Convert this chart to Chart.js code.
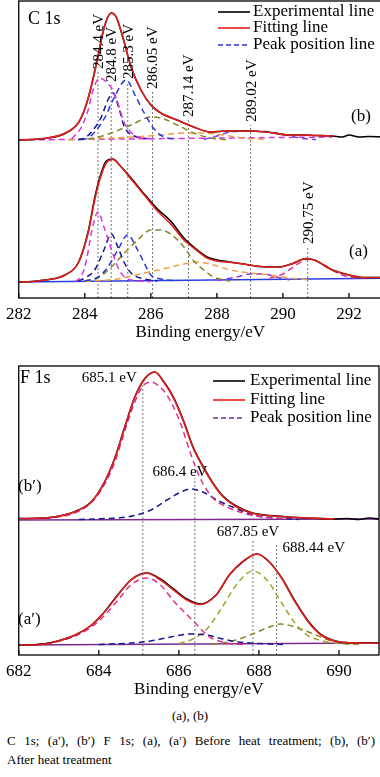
<!DOCTYPE html>
<html>
<head>
<meta charset="utf-8">
<script src="https://cdn.jsdelivr.net/npm/chart.js@4.4.1/dist/chart.umd.min.js"></script>
<style>
  body { margin: 0; background: #fff; width: 380px; height: 777px; overflow: hidden; position: relative;
         font-family: 'Liberation Serif', 'Times New Roman', serif; color: #000; }
  #c1 { position: absolute; left: 0; top: 0; }
  #c2 { position: absolute; left: 0; top: 347px; }
  #sub { position: absolute; left: 0; width: 380px; top: 708px; text-align: center; font-size: 13px; }
  .cap { position: absolute; left: 7px; width: 368px; font-size: 13px; line-height: 16px; }
  #cap1 { top: 733px; text-align: justify; text-align-last: justify; }
  #cap2 { top: 752px; text-align: left; }
</style>
</head>
<body>
<canvas id="c1" width="383" height="347"></canvas>
<canvas id="c2" width="380" height="353"></canvas>
<div id="sub">(a), (b)</div>
<div class="cap" id="cap1">C 1s; (a′), (b′) F 1s; (a), (a′) Before heat treatment; (b), (b′)</div>
<div class="cap" id="cap2">After heat treatment</div>
<script>
var SERIF = "'Liberation Serif', 'Times New Roman', serif";
Chart.defaults.font.family = SERIF;
Chart.defaults.color = '#000';

// ---------- C 1s ----------
var ticksC = [282, 284, 286, 288, 290, 292];
var offCa = 16, offCb = 158;   // vertical stacking of spectra (a) and (b)

// (a) before heat treatment
var eCa    = [282, 282.4, 282.8, 283.1, 283.4, 283.8, 284.1, 284.3, 284.45, 284.65, 284.85, 285.05, 285.4, 285.8, 286.2, 286.6, 287.0, 287.3, 287.7, 288.0, 288.3, 288.8, 289.3, 289.9, 290.3, 290.7, 290.95, 291.5, 292.0, 292.4, 293];
var expCa  = [0, 0.5, 2, 3.5, 7, 19, 50, 84, 104, 121, 123, 117, 104, 88, 73, 61, 44, 35, 25, 22, 20.5, 18, 15.5, 15, 18.5, 23.5, 22, 12, 7, 4.5, 4.5];
var fitCa  = [0, 0.5, 2, 3.5, 7, 19, 49, 82, 102, 119, 122.5, 117, 103, 87, 71, 58, 42, 34, 24, 21, 20, 18, 15.5, 15, 18.5, 23.5, 22, 12, 7, 4.5, 4.5];
var baseCaE = [282, 293];
var baseCa  = [0, 3.7];
var p2844aE = [283.7, 283.9, 284.05, 284.2, 284.4, 284.58, 284.78, 285.0, 285.2, 285.5, 286.0];
var p2844a  = [0.5, 6, 22, 49, 70, 55, 35, 15, 5, 1.5, 0.5];
var p2848aE = [283.8, 284.0, 284.3, 284.58, 284.8, 285.0, 285.2, 285.4, 285.8, 286.2];
var p2848a  = [1, 4, 12, 32, 48, 35, 19, 9, 3, 1];
var p2853aE = [284.0, 284.4, 284.7, 285.0, 285.3, 285.6, 285.8, 286.0, 286.3, 286.8];
var p2853a  = [1, 5, 15, 32, 47, 32, 19, 7, 3, 1];
var p2860aE = [284.0, 284.4, 284.8, 285.2, 285.6, 286.0, 286.3, 286.6, 287.0, 287.3, 287.6, 287.9, 288.4];
var p2860a  = [1, 4, 15, 29, 42, 52, 52, 48, 35, 21, 12, 5, 1];
var p2871aE = [284.0, 285.0, 285.8, 286.5, 287.0, 287.4, 287.9, 288.4, 289.0, 289.6, 290.2, 290.8];
var p2871a  = [0.5, 3, 9, 14, 18, 20, 17, 12, 9, 7, 4, 2];
var p2890aE = [288.0, 288.6, 289.0, 289.4, 289.8, 290.2];
var p2890a  = [1.5, 5, 8, 8, 5, 2];
var p2908aE = [289.6, 290.0, 290.4, 290.8, 291.2, 291.6, 292.0, 292.5];
var p2908a  = [4, 8, 17, 23, 18, 10, 5, 4];

// (b) after heat treatment
var eCbExp = [282, 282.8, 283.4, 283.8, 284.0, 284.2, 284.4, 284.6, 284.8, 284.95, 285.15, 285.4, 285.7, 286.0, 286.3, 286.8, 287.3, 287.8, 288.3, 288.9, 289.5, 290.2, 290.6, 291.0, 291.5, 291.8, 292.0, 292.3, 292.6, 293];
var expCb  = [0, 1.5, 6.5, 17, 31, 54, 84, 114, 127, 123, 103, 73, 50, 35, 27, 20, 13, 8, 9, 9, 8, 5, 5, 4.5, 4, 3, 5, 3, 3.5, 3];
var eCbFit = [282, 282.8, 283.4, 283.8, 284.0, 284.2, 284.4, 284.6, 284.8, 284.95, 285.15, 285.4, 285.7, 286.0, 286.3, 286.8, 287.3, 287.8, 288.3, 288.9, 289.5, 290.2, 290.6, 291.0, 291.5];
var fitCb  = [0, 1.7, 6.7, 17, 31, 54, 84, 114, 127, 123, 103, 73, 50, 35, 27, 20, 13, 8, 9, 9, 8, 5, 5, 4.5, 4];
var baseCbE = [282, 291.5];
var baseCb  = [0, 3];
var p2844bE = [283.6, 283.9, 284.1, 284.25, 284.45, 284.65, 284.85, 285.0, 285.2, 285.5, 286.0];
var p2844b  = [1, 13, 30, 50, 62, 58, 50, 37, 17, 5, 1];
var p2848bE = [283.8, 284.0, 284.2, 284.5, 284.7, 284.85, 285.05, 285.2, 285.5, 285.9];
var p2848b  = [0.5, 2, 8, 23, 40, 47, 30, 13, 4, 1];
var p2853bE = [283.9, 284.1, 284.3, 284.6, 284.9, 285.25, 285.55, 285.8, 286.1, 286.4, 286.8];
var p2853b  = [0.5, 2, 8, 22, 43, 60, 43, 27, 11, 3, 1];
var p2860bE = [283.8, 284.3, 284.8, 285.4, 286.0, 286.4, 286.8, 287.3, 287.8, 288.3];
var p2860b  = [0.5, 2, 7, 15, 23, 21, 15, 7, 2, 0.5];
var p2871bE = [283.5, 284.5, 285.5, 286.3, 287.0, 287.6, 288.2, 288.8, 289.5];
var p2871b  = [0.3, 1.5, 3, 5, 7, 7, 5, 2, 0.5];
var p2890bE = [287.6, 288.0, 288.4, 289.0, 289.6, 290.1, 290.6, 291.0];
var p2890b  = [0.5, 4, 8, 9, 8, 5, 1.5, 0.5];

var peaksC    = [284.4, 284.8, 285.3, 286.05, 287.14, 289.02, 290.75];
var peaksCTop = [226, 213, 216, 206, 178, 173, 51];

// ---------- F 1s ----------
var ticksF = [682, 684, 686, 688, 690];
var offFa = 10, offFb = 135;

// (a') before heat treatment
var eFa   = [682, 682.43, 682.92, 683.41, 683.82, 684.15, 684.48, 684.8, 685.05, 685.21, 685.54, 685.87, 686.2, 686.53, 686.93, 687.26, 687.59, 687.95, 688.25, 688.57, 688.9, 689.23, 689.55, 689.97, 690.5, 691];
var expFa = [0, 0.3, 3.5, 10, 20, 33.5, 50.5, 65, 71, 72, 66, 56, 46, 41, 50, 70, 83, 91, 83.5, 67, 44, 24, 10.5, 3.5, 2, 2];
var fitFa = [0, 0, 3.3, 10, 20, 33.3, 50, 65, 70.7, 71.7, 65, 55, 45, 40.5, 50, 70, 83.3, 91, 83.3, 66.7, 43.3, 23.3, 10, 3.3, 2, 1.7];
var baseFaE = [682, 691];
var baseFa  = [0, 2];
var p6851aE = [682.43, 682.92, 683.41, 683.82, 684.15, 684.48, 684.8, 685.2, 685.54, 685.87, 686.36, 686.77, 687.2, 687.6];
var p6851a  = [0.5, 3, 9, 18, 30, 45, 60, 67, 60, 44, 24, 8, 2, 0.5];
var p6864aE = [684.0, 684.8, 685.3, 685.8, 686.3, 686.7, 687.1, 687.5, 688.0, 688.6];
var p6864a  = [0.5, 2, 4, 8, 11, 10, 6, 3, 1.5, 0.5];
var p6879aE = [686.0, 686.4, 686.7, 687.1, 687.45, 687.85, 688.2, 688.57, 688.9, 689.2, 689.6, 690.0, 690.5];
var p6879a  = [1.5, 7, 16, 39, 61, 74, 65, 42, 22, 10, 4, 1.5, 0.5];
var p6884aE = [686.8, 687.1, 687.43, 687.84, 688.2, 688.55, 688.9, 689.3, 689.88, 690.4];
var p6884a  = [0.5, 2, 5, 11, 17, 21, 18, 12, 3.3, 1];

// (b') after heat treatment
var eFbExp = [682, 682.43, 682.92, 683.41, 683.82, 684.15, 684.4, 684.64, 684.89, 685.13, 685.4, 685.62, 685.87, 686.12, 686.36, 686.6, 686.85, 687.1, 687.43, 687.84, 688.65, 689.5, 689.9, 690.2, 690.5, 690.75, 691];
var expFb  = [1.5, 1.7, 3.3, 8.5, 18.5, 38.5, 62, 92, 122, 140.5, 148, 138.5, 122.5, 99, 72.5, 54, 37, 24, 14, 7, 3.3, 1.5, 1, 1.5, 0.5, 2, 1];
var eFbFit = [682, 682.43, 682.92, 683.41, 683.82, 684.15, 684.4, 684.64, 684.89, 685.13, 685.4, 685.62, 685.87, 686.12, 686.36, 686.6, 686.85, 687.1, 687.43, 687.84, 688.65, 689.88];
var fitFb  = [1.5, 1.7, 3.3, 8.3, 18.3, 38.3, 61.7, 91.7, 121.7, 140, 148, 138, 121.7, 98, 71.7, 53, 36.5, 23.3, 13.3, 6.7, 3.3, 1];
var baseFbE = [682, 691];
var baseFb  = [0, 1];
var p6851bE = [682.4, 682.9, 683.4, 683.8, 684.15, 684.4, 684.64, 684.89, 685.1, 685.3, 685.5, 685.7, 686.03, 686.28, 686.53, 686.85, 687.1, 687.6, 688.1, 688.7];
var p6851b  = [1, 2.5, 7, 17, 36, 58, 88, 117, 134, 138, 134, 125, 98, 68, 42, 22, 15, 7, 3, 1];
var p6864bE = [683.5, 684.2, 684.7, 685.3, 685.7, 686.0, 686.3, 686.6, 687.0, 687.4, 687.85, 688.4, 689.0];
var p6864b  = [0.5, 1.5, 3, 10, 20, 27, 31, 28, 19, 12, 5, 2, 0.5];

var peaksF    = [685.1, 686.4, 687.85, 688.44];
var peaksFTop = [272, 177, 115, 112];

var legendText = ['Experimental line', 'Fitting line', 'Peak position line'];

// ---------- helpers ----------
var DASH = [6, 4];
function pts(E, Y, off) {
  return E.map(function (e, i) { return { x: e, y: Y[i] + off }; });
}
function ds(E, Y, off, color, dash, order, w) {
  return {
    data: pts(E, Y, off),
    borderColor: color,
    borderWidth: w || 1.5,
    borderDash: dash || [],
    order: order == null ? 2 : order,
    pointRadius: 0,
    showLine: true,
    fill: false,
    cubicInterpolationMode: 'monotone'
  };
}
function vline(e, top) {
  return {
    data: [{ x: e, y: 0 }, { x: e, y: top }],
    borderColor: '#777', borderWidth: 1, borderDash: [2, 2],
    pointRadius: 0, showLine: true, order: 5
  };
}

function annoPlugin(cfg) {
  return {
    id: 'anno',
    afterDraw: function (chart) {
      var ctx = chart.ctx, a = chart.chartArea;
      var xs = chart.scales.x, ys = chart.scales.y;
      ctx.save();
      // frame + inward ticks
      ctx.strokeStyle = '#000';
      ctx.lineWidth = 1.3;
      ctx.strokeRect(a.left, a.top, a.right - a.left, a.bottom - a.top);
      cfg.ticks.forEach(function (v) {
        var x = xs.getPixelForValue(v);
        ctx.beginPath(); ctx.moveTo(x, a.bottom); ctx.lineTo(x, a.bottom - 5); ctx.stroke();
      });
      // peak labels
      ctx.fillStyle = '#000';
      ctx.font = '15px ' + SERIF;
      cfg.peaks.forEach(function (p) {
        var x = xs.getPixelForValue(p.e);
        if (p.rot) {
          ctx.save();
          ctx.translate(x + 1, ys.getPixelForValue(p.top) - 3);
          ctx.rotate(-Math.PI / 2);
          ctx.textAlign = 'left'; ctx.textBaseline = 'middle';
          ctx.fillText(p.text, 0, 0);
          ctx.restore();
        } else {
          ctx.textAlign = p.align; ctx.textBaseline = 'middle';
          ctx.fillText(p.text, x + p.dx, ys.getPixelForValue(p.ty));
        }
      });
      // panel labels
      cfg.texts.forEach(function (t) {
        ctx.font = t.size + 'px ' + SERIF;
        ctx.textAlign = 'left'; ctx.textBaseline = 'middle';
        ctx.fillText(t.text, t.x, t.y);
      });
      // legend
      var L = cfg.legend;
      ctx.font = '17px ' + SERIF;
      legendText.forEach(function (txt, i) {
        var y = L.y[i];
        ctx.strokeStyle = L.colors[i];
        ctx.lineWidth = 1.6;
        ctx.setLineDash(i === 2 ? [5, 3] : []);
        ctx.beginPath(); ctx.moveTo(L.x0, y); ctx.lineTo(L.x1, y); ctx.stroke();
        ctx.setLineDash([]);
        ctx.textAlign = 'left'; ctx.textBaseline = 'middle';
        ctx.fillText(txt, L.tx, y);
      });
      ctx.restore();
    }
  };
}

function makeChart(id, cfg) {
  return new Chart(document.getElementById(id), {
    type: 'scatter',
    data: { datasets: cfg.datasets },
    options: {
      responsive: false,
      animation: false,
      devicePixelRatio: 1,
      layout: { padding: cfg.pad },
      plugins: { legend: { display: false }, tooltip: { enabled: false } },
      scales: {
        x: {
          type: 'linear', min: cfg.xmin, max: cfg.xmax,
          afterBuildTicks: function (s) { s.ticks = cfg.ticks.map(function (v) { return { value: v }; }); },
          afterFit: function (s) { s.height = cfg.axisH; },
          grid: { display: false, drawTicks: false },
          border: { display: false },
          ticks: { font: { size: 17, family: SERIF }, color: '#000', padding: 6 },
          title: { display: true, text: 'Binding energy/eV', font: { size: 17, family: SERIF }, color: '#000',
                   padding: { top: 0, bottom: cfg.titlePad } }
        },
        y: { display: false, min: 0, max: cfg.ymax }
      }
    },
    plugins: [annoPlugin(cfg)]
  });
}

// ---------- C 1s chart ----------
var dsC = [
  ds(eCa, fitCa, offCa, '#e3201e', [], 0, 1.6),
  ds(eCa, expCa, offCa, '#000', [], 1, 1.6),
  ds(eCbFit, fitCb, offCb, '#e3201e', [], 0, 1.6),
  ds(eCbExp, expCb, offCb, '#000', [], 1, 1.6),
  ds(baseCaE, baseCa, offCa, '#2a3ee0', [], 3, 1.5),
  ds(baseCbE, baseCb, offCb, '#d834e0', DASH, 3),
  ds(p2844aE, p2844a, offCa, '#e034e0', DASH),
  ds(p2848aE, p2848a, offCa, '#14148c', DASH),
  ds(p2853aE, p2853a, offCa, '#2a3ad8', DASH),
  ds(p2860aE, p2860a, offCa, '#86862a', DASH),
  ds(p2871aE, p2871a, offCa, '#f0a040', DASH),
  ds(p2890aE, p2890a, offCa, '#8a3ae0', DASH),
  ds(p2908aE, p2908a, offCa, '#e8308c', DASH),
  ds(p2844bE, p2844b, offCb, '#e034e0', DASH),
  ds(p2848bE, p2848b, offCb, '#14148c', DASH),
  ds(p2853bE, p2853b, offCb, '#2a3ad8', DASH),
  ds(p2860bE, p2860b, offCb, '#86862a', DASH),
  ds(p2871bE, p2871b, offCb, '#f0a040', DASH),
  ds(p2890bE, p2890b, offCb, '#7a40e0', DASH)
].concat(peaksC.map(function (e, i) { return vline(e, peaksCTop[i]); }));

makeChart('c1', {
  datasets: dsC,
  xmin: 282, xmax: 293, ymax: 297,
  ticks: ticksC,
  pad: { left: 13, right: 1, top: 1, bottom: 0 },
  axisH: 49, titlePad: 4,
  peaks: peaksC.map(function (e, i) { return { e: e, top: peaksCTop[i], text: e + ' eV', rot: true }; }),
  texts: [
    { text: 'C 1s', x: 28, y: 19, size: 18 },
    { text: '(b)', x: 351, y: 117, size: 17 },
    { text: '(a)', x: 349, y: 252, size: 17 }
  ],
  legend: { x0: 218, x1: 250, tx: 253, y: [12, 28, 45], colors: ['#000', '#e3201e', '#2a30d0'] }
});

// ---------- F 1s chart ----------
var dsF = [
  ds(eFa, fitFa, offFa, '#e3201e', [], 0, 1.6),
  ds(eFa, expFa, offFa, '#000', [], 1, 1.6),
  ds(eFbFit, fitFb, offFb, '#e3201e', [], 0, 1.6),
  ds(eFbExp, expFb, offFb, '#000', [], 1, 1.6),
  ds(baseFaE, baseFa, offFa, '#7b2d8e', [], 3, 1.5),
  ds(baseFbE, baseFb, offFb, '#7b2d8e', [], 3, 1.5),
  ds(p6851aE, p6851a, offFa, '#e0308c', DASH),
  ds(p6864aE, p6864a, offFa, '#1a1a90', DASH),
  ds(p6879aE, p6879a, offFa, '#a5a02a', DASH),
  ds(p6884aE, p6884a, offFa, '#8a862a', DASH),
  ds(p6851bE, p6851b, offFb, '#e0308c', DASH),
  ds(p6864bE, p6864b, offFb, '#1a1a90', DASH)
].concat(peaksF.map(function (e, i) { return vline(e, peaksFTop[i]); }));

makeChart('c2', {
  datasets: dsF,
  xmin: 682, xmax: 691, ymax: 289,
  ticks: ticksF,
  pad: { left: 12, right: 1, top: 19, bottom: 0 },
  axisH: 45, titlePad: 0,
  peaks: [
    { e: peaksF[0], text: peaksF[0] + ' eV', align: 'right', dx: -6, ty: 277 },
    { e: peaksF[1], text: peaksF[1] + ' eV', align: 'center', dx: -15, ty: 183 },
    { e: peaksF[2], text: peaksF[2] + ' eV', align: 'center', dx: -5, ty: 123 },
    { e: peaksF[3], text: peaksF[3] + ' eV', align: 'left', dx: 6, ty: 107 }
  ],
  texts: [
    { text: 'F 1s', x: 20, y: 31, size: 18 },
    { text: '(b′)', x: 18, y: 140, size: 17 },
    { text: '(a′)', x: 18, y: 273, size: 17 }
  ],
  legend: { x0: 213, x1: 245, tx: 250, y: [34, 53, 71], colors: ['#000', '#e3201e', '#6a2a9a'] }
});
</script>
</body>
</html>
